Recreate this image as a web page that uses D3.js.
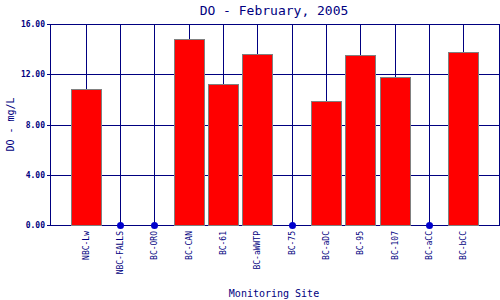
<!DOCTYPE html>
<html>
<head>
<meta charset="utf-8">
<script src="https://cdn.jsdelivr.net/npm/d3@7"></script>
<style>
  body { margin: 0; background: #fff; }
  svg text { font-family: "DejaVu Sans Mono", monospace; fill: #000080; }
</style>
</head>
<body>
<svg width="500" height="300"></svg>
<script>
// chart data
const sites = ["NBC-Lw", "NBC-FALLS", "BC-ORO", "BC-CAN", "BC-61", "BC-aWWTP",
               "BC-75", "BC-aDC", "BC-95", "BC-107", "BC-aCC", "BC-bCC"]
const doValues = [10.8, 0, 0, 14.8, 11.2, 13.6, 0, 9.85, 13.5, 11.75, 0, 13.75]
const yTicks = [0, 4, 8, 12, 16]

const data = sites.map((s, i) => ({ site: s, value: doValues[i] }))

// plot area
const plotL = 50, plotR = 499, plotT = 24, plotB = 225
const navy = "#000080"

const svg = d3.select("svg")

const x = d3.scalePoint()
    .domain(sites)
    .range([plotL, plotR])
    .padding(1.04)

const y = d3.scaleLinear()
    .domain([0, 16])
    .range([plotB, plotT])

// horizontal grid lines
svg.append("g")
  .selectAll("line")
  .data(yTicks)
  .join("line")
  .attr("x1", plotL - 3)
  .attr("x2", plotR)
  .attr("y1", d => Math.round(y(d)) + 0.5)
  .attr("y2", d => Math.round(y(d)) + 0.5)
  .attr("stroke", navy)

// vertical grid lines at each site
svg.append("g")
  .selectAll("line")
  .data(sites)
  .join("line")
  .attr("x1", d => Math.round(x(d)) + 0.5)
  .attr("x2", d => Math.round(x(d)) + 0.5)
  .attr("y1", plotT)
  .attr("y2", plotB)
  .attr("stroke", navy)

// frame: left and right edges
svg.append("line")
  .attr("x1", plotL + 0.5).attr("x2", plotL + 0.5)
  .attr("y1", plotT).attr("y2", plotB + 1)
  .attr("stroke", navy)
svg.append("line")
  .attr("x1", plotR + 0.5).attr("x2", plotR + 0.5)
  .attr("y1", plotT).attr("y2", plotB + 1)
  .attr("stroke", navy)

// bars
const barW = 30
svg.append("g")
  .selectAll("rect")
  .data(data.filter(d => d.value > 0))
  .join("rect")
  .attr("x", d => Math.round(x(d.site) - barW / 2) + 0.5)
  .attr("y", d => Math.round(y(d.value)) + 0.5)
  .attr("width", barW)
  .attr("height", d => Math.round(y(0)) - Math.round(y(d.value)))
  .attr("fill", "#ff0000")
  .attr("stroke", "#808080")

// zero values shown as dots
svg.append("g")
  .selectAll("circle")
  .data(data.filter(d => d.value === 0))
  .join("circle")
  .attr("cx", d => Math.round(x(d.site)) + 0.5)
  .attr("cy", d => Math.round(y(0)) + 0.5)
  .attr("r", 3.5)
  .attr("fill", "#0000cc")

// y tick labels
svg.append("g")
  .selectAll("text")
  .data(yTicks)
  .join("text")
  .attr("x", 45)
  .attr("y", d => y(d) + 3)
  .attr("text-anchor", "end")
  .attr("font-size", 8)
  .attr("font-weight", "bold")
  .text(d => d.toFixed(2))

// x tick labels (rotated)
svg.append("g")
  .selectAll("text")
  .data(sites)
  .join("text")
  .attr("transform", d => `translate(${x(d) + 3},${plotB + 6}) rotate(-90)`)
  .attr("text-anchor", "end")
  .attr("font-size", 8)
  .text(d => d)

// title and axis labels
svg.append("text")
  .attr("x", 274)
  .attr("y", 15)
  .attr("text-anchor", "middle")
  .attr("font-size", 13)
  .text("DO - February, 2005")

svg.append("text")
  .attr("x", 274)
  .attr("y", 297)
  .attr("text-anchor", "middle")
  .attr("font-size", 10)
  .text("Monitoring Site")

svg.append("text")
  .attr("transform", `translate(14,${(plotT + plotB) / 2}) rotate(-90)`)
  .attr("text-anchor", "middle")
  .attr("font-size", 10)
  .text("DO - mg/L")
</script>
</body>
</html>
